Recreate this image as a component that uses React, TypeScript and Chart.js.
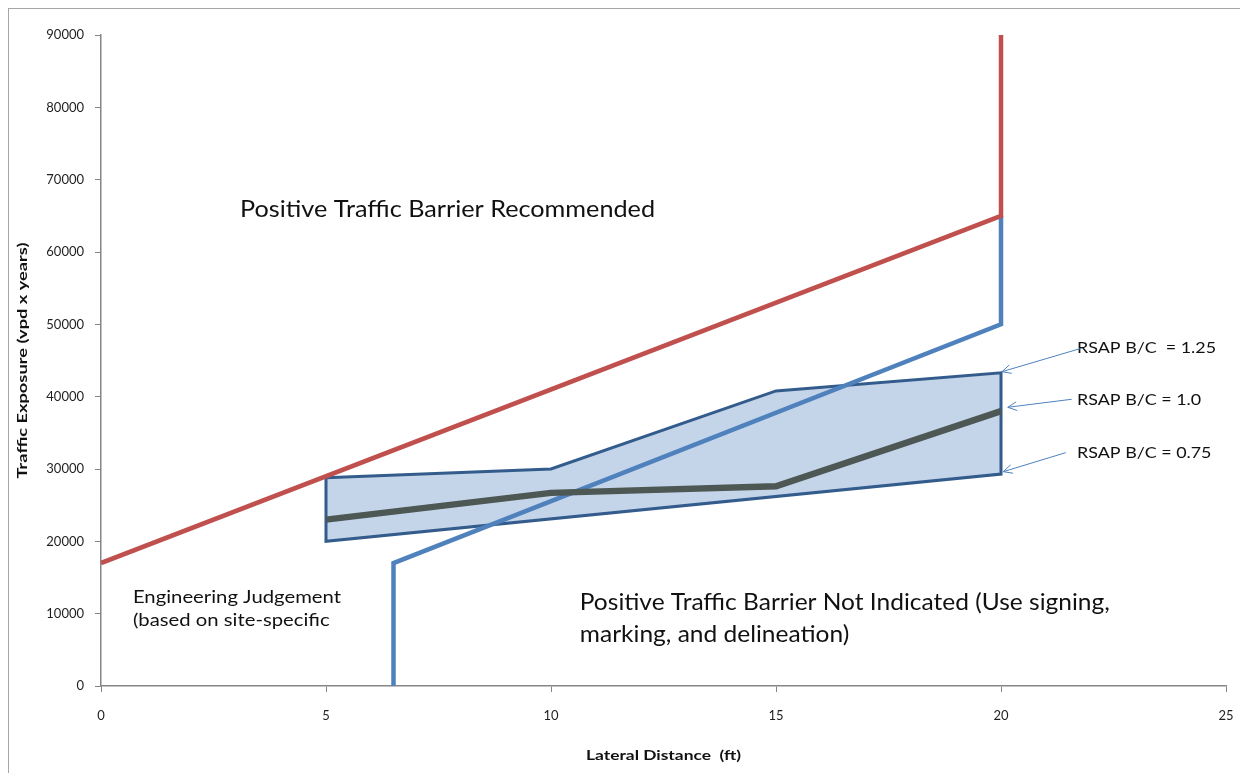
import { useEffect, useRef } from "react";
import { Chart, registerables } from "chart.js";

Chart.register(...registerables);

// ---- data ----
const xTickValues = [0, 5, 10, 15, 20, 25];
const yTickValues = [0, 10000, 20000, 30000, 40000, 50000, 60000, 70000, 80000, 90000];

const redX = [0, 20, 20];
const redY = [17000, 65000, 90000];

const blueX = [6.5, 6.5, 20, 20];
const blueY = [0, 17000, 50000, 65000];

const bandX = [5, 10, 15, 20, 20, 5, 5];
const bandY = [28800, 30000, 40800, 43300, 29300, 20000, 28800];

const midX = [5, 10, 15, 20];
const midY = [23000, 26700, 27600, 38000];

const upperLabel = "Positive Traffic Barrier Recommended";
const lowerLabel = ["Positive Traffic Barrier Not Indicated (Use signing,", "marking, and delineation)"];
const judgementLabel = ["Engineering Judgement", "(based on site-specific"];
const rsapLabels = ["RSAP B/C  = 1.25", "RSAP B/C = 1.0", "RSAP B/C = 0.75"];

const xTitle = "Lateral Distance  (ft)";
const yTitle = "Traffic Exposure (vpd x years)";

const FONT = "Lato, 'Open Sans', sans-serif";

const toPts = (xs: number[], ys: number[]) => xs.map((x, i) => ({ x, y: ys[i] }));

function drawSqueezed(
  ctx: CanvasRenderingContext2D,
  text: string,
  x: number,
  y: number,
  size: number,
  sx: number,
  bold = false,
  align: CanvasTextAlign = "left"
) {
  ctx.save();
  ctx.translate(x, y);
  ctx.scale(sx, 1);
  ctx.font = `${bold ? "bold " : ""}${size}px ${FONT}`;
  ctx.textBaseline = "middle";
  ctx.textAlign = align;
  ctx.fillText(text, 0, 0);
  ctx.restore();
}

function squeezeFactor(ctx: CanvasRenderingContext2D, text: string, size: number, target: number, bold = false) {
  ctx.save();
  ctx.font = `${bold ? "bold " : ""}${size}px ${FONT}`;
  const w = ctx.measureText(text).width;
  ctx.restore();
  return w > 0 ? target / w : 1;
}

function arrow(ctx: CanvasRenderingContext2D, x1: number, y1: number, x2: number, y2: number) {
  ctx.save();
  ctx.strokeStyle = "#4f81bd";
  ctx.lineWidth = 1;
  ctx.beginPath();
  ctx.moveTo(x1, y1);
  ctx.lineTo(x2, y2);
  const ang = Math.atan2(y1 - y2, x1 - x2);
  const len = 10;
  const spread = 0.45;
  ctx.moveTo(x2 + len * Math.cos(ang + spread), y2 + len * Math.sin(ang + spread));
  ctx.lineTo(x2, y2);
  ctx.lineTo(x2 + len * Math.cos(ang - spread), y2 + len * Math.sin(ang - spread));
  ctx.stroke();
  ctx.restore();
}

const annotationPlugin = {
  id: "annotations",
  afterDatasetsDraw(chart: any) {
    const { ctx, scales, chartArea } = chart;
    const xs = scales.x;
    const ys = scales.y;
    const px = (v: number) => xs.getPixelForValue(v);
    const py = (v: number) => ys.getPixelForValue(v);
    ctx.save();
    ctx.fillStyle = "#111111";

    // upper region label
    const s1 = squeezeFactor(ctx, upperLabel, 23, 415);
    drawSqueezed(ctx, upperLabel, px(3.09), py(65800), 23, s1);

    // lower region label
    const s2 = squeezeFactor(ctx, lowerLabel[0], 23, 530);
    drawSqueezed(ctx, lowerLabel[0], px(10.64), py(11500), 23, s2);
    drawSqueezed(ctx, lowerLabel[1], px(10.64), py(7050), 23, s2);

    // engineering judgement
    const s3 = squeezeFactor(ctx, judgementLabel[0], 17, 208);
    drawSqueezed(ctx, judgementLabel[0], px(0.71), py(12200), 17, s3);
    drawSqueezed(ctx, judgementLabel[1], px(0.71), py(9000), 17, s3);

    // RSAP labels
    const s4 = squeezeFactor(ctx, rsapLabels[0], 16, 139);
    const rsapY = [46700, 39500, 32200];
    rsapLabels.forEach((t, i) => drawSqueezed(ctx, t, px(21.69), py(rsapY[i]), 16, s4));

    // arrows
    arrow(ctx, px(21.79), py(46700), px(20.02), py(43450));
    arrow(ctx, px(21.57), py(39640), px(20.15), py(38530));
    arrow(ctx, px(21.44), py(32260), px(20.05), py(29630));

    // axis titles
    const cx = (chartArea.left + chartArea.right) / 2;
    const cy = (chartArea.top + chartArea.bottom) / 2;
    const s5 = squeezeFactor(ctx, xTitle, 13, 155, true);
    drawSqueezed(ctx, xTitle, cx, chartArea.bottom + 70, 13, s5, true, "center");
    const s6 = squeezeFactor(ctx, yTitle, 14, 236, true);
    ctx.save();
    ctx.translate(chartArea.left - 79, cy);
    ctx.rotate(-Math.PI / 2);
    drawSqueezed(ctx, yTitle, 0, 0, 14, s6, true, "center");
    ctx.restore();

    ctx.restore();
  },
};

export default function App() {
  const ref = useRef<HTMLCanvasElement | null>(null);

  useEffect(() => {
    if (!ref.current) return;
    const chart = new Chart(ref.current, {
      type: "scatter",
      data: {
        datasets: [
          {
            label: "Barrier recommended boundary",
            data: toPts(redX, redY),
            showLine: true,
            borderColor: "#c0504d",
            borderWidth: 4.5,
            pointRadius: 0,
            borderCapStyle: "butt",
            borderJoinStyle: "miter",
            fill: false,
          },
          {
            label: "RSAP B/C = 1.0",
            data: toPts(midX, midY),
            showLine: true,
            borderColor: "#4d5754",
            borderWidth: 6.5,
            pointRadius: 0,
            borderCapStyle: "butt",
            borderJoinStyle: "miter",
            fill: false,
          },
          {
            label: "Barrier not indicated boundary",
            data: toPts(blueX, blueY),
            showLine: true,
            borderColor: "#4f81bd",
            borderWidth: 4.5,
            pointRadius: 0,
            borderCapStyle: "butt",
            borderJoinStyle: "miter",
            fill: false,
          },
          {
            label: "RSAP band",
            data: toPts(bandX, bandY),
            showLine: true,
            borderColor: "#335c8c",
            backgroundColor: "#c5d5e9",
            borderWidth: 3,
            pointRadius: 0,
            borderJoinStyle: "miter",
            fill: "shape",
          },
        ],
      },
      options: {
        responsive: false,
        animation: false,
        devicePixelRatio: 1,
        layout: { autoPadding: false, padding: { top: 26, right: 14, left: 0, bottom: 0 } },
        plugins: {
          legend: { display: false },
          tooltip: { enabled: false },
        },
        scales: {
          x: {
            type: "linear",
            min: 0,
            max: 25,
            afterFit: (s: any) => {
              s.height = 87;
              s.paddingLeft = 0;
              s.paddingRight = 0;
            },
            afterBuildTicks: (s: any) => {
              s.ticks = xTickValues.map((v) => ({ value: v }));
            },
            grid: { drawOnChartArea: false, drawTicks: true, tickLength: 6, tickColor: "#868686" },
            border: { display: true, color: "#868686", width: 1.5 },
            ticks: {
              padding: 16,
              color: "#1f1f1f",
              font: { family: FONT, size: 13 },
              maxRotation: 0,
              callback: (v: any) => String(v),
            },
          },
          y: {
            type: "linear",
            min: 0,
            max: 90000,
            afterFit: (s: any) => {
              s.width = 92;
              s.paddingTop = 0;
              s.paddingBottom = 0;
            },
            afterBuildTicks: (s: any) => {
              s.ticks = yTickValues.map((v) => ({ value: v }));
            },
            grid: { drawOnChartArea: false, drawTicks: true, tickLength: 6, tickColor: "#868686" },
            border: { display: true, color: "#868686", width: 1.5 },
            ticks: {
              padding: 11,
              color: "#1f1f1f",
              font: { family: FONT, size: 13 },
              callback: (v: any) => String(v),
            },
          },
        },
      },
      plugins: [annotationPlugin],
    } as any);
    return () => chart.destroy();
  }, []);

  return (
    <div
      style={{
        width: 1231,
        height: 764,
        borderLeft: "1px solid #a6a6a6",
        borderTop: "1px solid #a6a6a6",
        background: "#ffffff",
      }}
    >
      <canvas ref={ref} width={1231} height={764} style={{ display: "block" }} />
    </div>
  );
}
